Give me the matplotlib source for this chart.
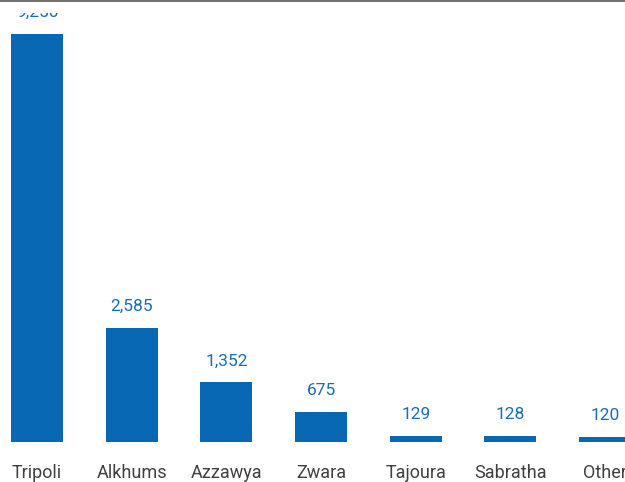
import matplotlib.pyplot as plt
from matplotlib.transforms import Bbox, TransformedBbox

cities = ["Tripoli", "Alkhums", "Azzawya", "Zwara", "Tajoura", "Sabratha", "Other"]
counts = [9250, 2585, 1352, 675, 129, 128, 120]

plt.rcParams['font.family'] = ['Roboto', 'DejaVu Sans']

fig = plt.figure(figsize=(6.25, 4.82), dpi=100)
ax = fig.add_axes([0, 40 / 482, 1, 441 / 482])

x = list(range(len(cities)))
bars = ax.bar(x, counts, width=0.55, color='#0868b4')

ax.set_xlim(-0.39, 6.21)
ax.set_ylim(0, 10000)

# value labels, clipped a little below the top edge
clip = TransformedBbox(Bbox([[0, 0], [6.25, 4.82 - 0.13]]), fig.dpi_scale_trans)
for xi, v in zip(x, counts):
    t = ax.annotate(f"{v:,}", (xi, v), xytext=(0, 10), textcoords='offset points',
                    ha='center', va='bottom', fontsize=12.5, color='#1a6db5')
    t.set_clip_box(clip)
    t.set_clip_on(True)

ax.set_xticks(x)
ax.set_xticklabels(cities, fontsize=13, color='#404040')
ax.tick_params(axis='x', length=0, pad=16)
ax.set_yticks([])

for s in ['left', 'right', 'bottom']:
    ax.spines[s].set_visible(False)
ax.spines['top'].set_color('#555555')
ax.spines['top'].set_linewidth(1.2)

plt.savefig("out.png", dpi=100)
